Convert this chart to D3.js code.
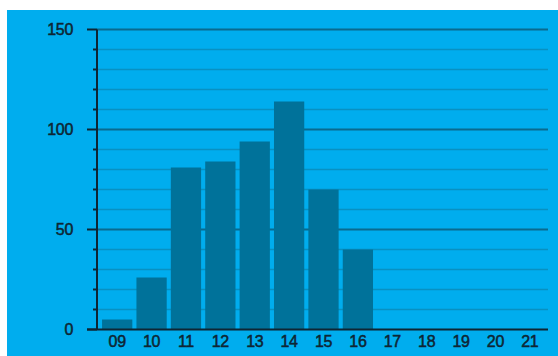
<!DOCTYPE html>
<html>
<head>
<meta charset="utf-8">
<script src="https://cdn.jsdelivr.net/npm/d3@7"></script>
<style>
  body { margin: 0; background: #fff; }
  svg { display: block; }
  .lbl { font-family: "Liberation Sans", Arial, sans-serif; font-size: 16px; fill: #0e2533; stroke: #0e2533; stroke-width: 0.5px; letter-spacing: -0.3px; }
</style>
</head>
<body>
<svg width="558" height="356"></svg>
<script>
var hours = ["09", "10", "11", "12", "13", "14", "15", "16", "17", "18", "19", "20", "21"];
var counts = [5, 26, 81, 84, 94, 114, 70, 40, 0, 0, 0, 0, 0];
var yMajor = [0, 50, 100, 150];
var yMinor = [10, 20, 30, 40, 60, 70, 80, 90, 110, 120, 130, 140];

var svg = d3.select("svg");

// blue panel
svg.append("rect")
    .attr("x", 7).attr("y", 10)
    .attr("width", 551).attr("height", 346)
    .attr("fill", "#00adee");

var x = d3.scaleBand()
        .domain(hours)
        .range([100, 547])
        .paddingInner(0.12)
        .paddingOuter(0.06);
var y = d3.scaleLinear()
        .domain([0, 150])
        .range([329.5, 29.5]);

var left = 97, right = 548;

// minor grid
svg.selectAll(".gminor")
    .data(yMinor)
    .enter()
    .append("line")
    .attr("class", "gminor")
    .attr("x1", left).attr("x2", right)
    .attr("y1", function(d) { return y(d); })
    .attr("y2", function(d) { return y(d); })
    .attr("stroke", "#0891c2")
    .attr("stroke-width", 1.5);

// major grid
svg.selectAll(".gmajor")
    .data(yMajor.slice(1))
    .enter()
    .append("line")
    .attr("class", "gmajor")
    .attr("x1", left).attr("x2", right)
    .attr("y1", function(d) { return y(d); })
    .attr("y2", function(d) { return y(d); })
    .attr("stroke", "#0a6a8e")
    .attr("stroke-width", 2);

// bars
svg.selectAll(".bar")
    .data(counts)
    .enter()
    .append("rect")
    .attr("class", "bar")
    .attr("x", function(d, i) { return x(hours[i]); })
    .attr("width", x.bandwidth())
    .attr("y", function(d) { return y(d); })
    .attr("height", function(d) { return y(0) - y(d); })
    .attr("fill", "#00729a");

// y axis line + ticks
svg.append("line")
    .attr("x1", left).attr("x2", left)
    .attr("y1", y(150)).attr("y2", y(0))
    .attr("stroke", "#0e2533").attr("stroke-width", 2);
svg.selectAll(".tminor")
    .data(yMinor)
    .enter()
    .append("line")
    .attr("x1", left - 4).attr("x2", left)
    .attr("y1", function(d) { return y(d); })
    .attr("y2", function(d) { return y(d); })
    .attr("stroke", "#0e2533").attr("stroke-width", 2);
svg.selectAll(".tmajor")
    .data(yMajor)
    .enter()
    .append("line")
    .attr("x1", left - 10).attr("x2", left)
    .attr("y1", function(d) { return y(d); })
    .attr("y2", function(d) { return y(d); })
    .attr("stroke", "#0e2533").attr("stroke-width", 2);
svg.selectAll(".ylbl")
    .data(yMajor)
    .enter()
    .append("text")
    .attr("class", "lbl")
    .attr("x", 73)
    .attr("y", function(d) { return y(d); })
    .attr("dy", "0.36em")
    .attr("text-anchor", "end")
    .text(function(d) { return d; });

// x axis line
svg.append("line")
    .attr("x1", left - 10).attr("x2", right)
    .attr("y1", y(0)).attr("y2", y(0))
    .attr("stroke", "#0e2533").attr("stroke-width", 2);
svg.selectAll(".xlbl")
    .data(hours)
    .enter()
    .append("text")
    .attr("class", "lbl")
    .attr("x", function(d) { return x(d) + x.bandwidth() / 2; })
    .attr("y", 347)
    .attr("text-anchor", "middle")
    .text(function(d) { return d; });
</script>
</body>
</html>
